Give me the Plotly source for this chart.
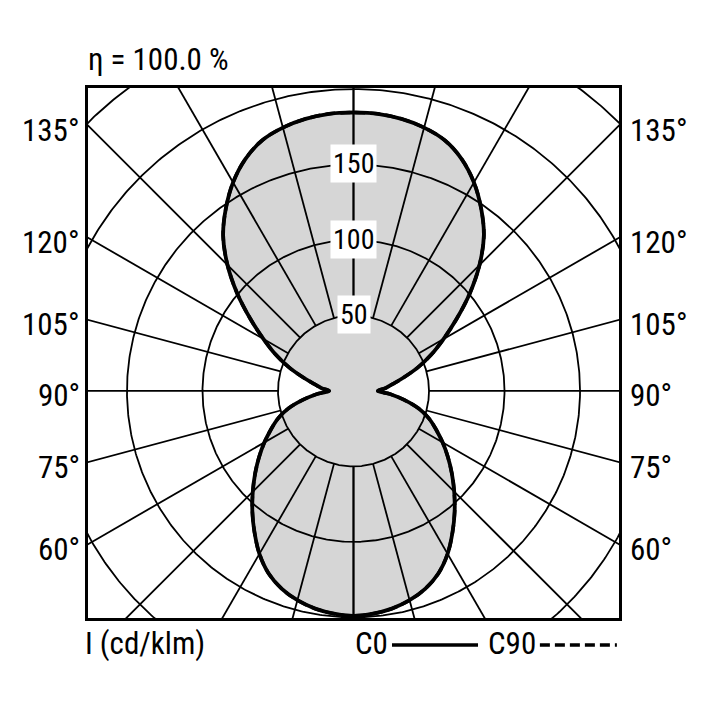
import numpy as np
import plotly.graph_objects as go

# ---- data ----
gamma = [0, 5, 10, 15, 20, 25, 30, 35, 40, 45, 50, 55, 60, 65, 70, 75, 80, 85, 90,
         95, 100, 105, 110, 115, 120, 125, 130, 135, 140, 145, 150, 155, 160, 165, 170, 175, 180]
c0 = [149, 148.1, 146.4, 143.5, 139.3, 133.2, 124.6, 114.3, 104.2, 94.3, 85, 76.3, 68.1, 60.3, 53.1, 44.5, 34.1, 24.6, 16.1,
      21.2, 26.3, 34.4, 45.2, 56.7, 68.8, 83.4, 100.5, 118, 134.3, 147.4, 159.5, 169.5, 176.7, 180.6, 183, 184.3, 184.5]
c90 = [149, 148.1, 146.4, 143.5, 139.3, 133.2, 124.6, 114.3, 104.2, 94.3, 85, 76.3, 68.1, 60.3, 53.1, 44.5, 34.1, 24.6, 16.1,
       21.2, 26.3, 34.4, 45.2, 56.7, 68.8, 83.4, 100.5, 118, 134.3, 147.4, 159.5, 169.5, 176.7, 180.6, 183, 184.3, 184.5]
grid_radii = [50, 100, 150, 200, 250]
radial_angles = [0, 15, 30, 45, 60, 75, 90, 105, 120, 135, 150, 165, 180]
side_label_angles = [60, 75, 90, 105, 120, 135]
ring_labels = [50, 100, 150]
eta_text = "η = 100.0 %"
unit_text = "I (cd/klm)"
legend_names = ["C0", "C90"]

XLIM = 175.8
YTOP = 200.7
YBOT = -150.4
FONT = "Roboto Condensed, DejaVu Sans Condensed, sans-serif"


def curve_xy(g, r):
    g = np.radians(np.asarray(g, dtype=float))
    r = np.asarray(r, dtype=float)
    xr = r * np.sin(g)
    yr = -r * np.cos(g)
    x = np.concatenate([xr, -xr[::-1]])
    y = np.concatenate([yr, yr[::-1]])
    return x, y


fig = go.Figure()

# fill
fx, fy = curve_xy(gamma, c0)
fig.add_trace(go.Scatter(x=fx, y=fy, mode="lines", fill="toself", fillcolor="#d6d6d6",
                         line=dict(width=0, color="rgba(0,0,0,0)", shape="spline"),
                         hoverinfo="skip", showlegend=False))

# grid circles
t = np.linspace(0, 2 * np.pi, 721)
for r in grid_radii:
    fig.add_trace(go.Scatter(x=r * np.cos(t), y=r * np.sin(t), mode="lines",
                             line=dict(color="black", width=1.8),
                             hoverinfo="skip", showlegend=False))

# radial lines (from the first ring outwards)
r0, r1 = grid_radii[0], 500
for a in radial_angles:
    g = np.radians(a)
    for s in (1, -1):
        fig.add_trace(go.Scatter(x=[s * r0 * np.sin(g), s * r1 * np.sin(g)],
                                 y=[-r0 * np.cos(g), -r1 * np.cos(g)], mode="lines",
                                 line=dict(color="black", width=1.8),
                                 hoverinfo="skip", showlegend=False))

# curves
x90, y90 = curve_xy(gamma, c90)
fig.add_trace(go.Scatter(x=x90, y=y90, mode="lines", name="C90",
                         line=dict(color="black", width=3.5, dash="10px,5px", shape="spline"),
                         hoverinfo="skip", showlegend=False))
fig.add_trace(go.Scatter(x=fx, y=fy, mode="lines", name="C0",
                         line=dict(color="black", width=3.8, shape="spline"),
                         hoverinfo="skip", showlegend=False))

annotations = []
# ring labels
for r in ring_labels:
    annotations.append(dict(x=0, y=r, xref="x", yref="y", text=str(r), showarrow=False,
                            font=dict(family=FONT, size=28, color="black"),
                            bgcolor="white", borderpad=2, yshift=1))
# side angle labels
for a in side_label_angles:
    g = np.radians(a)
    yv = -XLIM * np.cos(g) / np.sin(g)
    lab = f"{a}°"
    annotations.append(dict(x=0, y=yv, xref="paper", yref="y", text=lab, showarrow=False,
                            xanchor="right", yanchor="middle", xshift=-6, yshift=-5,
                            font=dict(family=FONT, size=31, color="black")))
    annotations.append(dict(x=1, y=yv, xref="paper", yref="y", text=lab, showarrow=False,
                            xanchor="left", yanchor="middle", xshift=9, yshift=-5,
                            font=dict(family=FONT, size=31, color="black")))
# title & unit
annotations.append(dict(x=0, y=1.053, xref="paper", yref="paper", text=eta_text, showarrow=False,
                        xanchor="left", yanchor="middle", xshift=-2,
                        font=dict(family=FONT, size=31, color="black")))
annotations.append(dict(x=-0.0094, y=-0.049, xref="paper", yref="paper", text=unit_text, showarrow=False,
                        xanchor="left", yanchor="middle",
                        font=dict(family=FONT, size=31, color="black")))
# legend texts
annotations.append(dict(x=0.569, y=-0.049, xref="paper", yref="paper", text=legend_names[0], showarrow=False,
                        xanchor="right", yanchor="middle",
                        font=dict(family=FONT, size=31, color="black")))
annotations.append(dict(x=0.847, y=-0.049, xref="paper", yref="paper", text=legend_names[1], showarrow=False,
                        xanchor="right", yanchor="middle",
                        font=dict(family=FONT, size=31, color="black")))

shapes = [
    dict(type="line", xref="paper", yref="paper", x0=0.5725, x1=0.7345, y0=-0.051, y1=-0.051,
         line=dict(color="black", width=3.5)),
    dict(type="line", xref="paper", yref="paper", x0=0.851, x1=0.996, y0=-0.051, y1=-0.051,
         line=dict(color="black", width=3.5, dash="10px,5px")),
]

# page body has an 8px margin, so the figure is 700x700 and placed at (8, 8)
fig.update_layout(
    width=700, height=700,
    margin=dict(l=80, r=89, t=80, b=90),
    paper_bgcolor="white", plot_bgcolor="white",
    showlegend=False,
    annotations=annotations, shapes=shapes,
    xaxis=dict(range=[-XLIM, XLIM], showgrid=False, zeroline=False, showticklabels=False, ticks="",
               showline=True, linecolor="black", linewidth=2.5, mirror=True, fixedrange=True),
    yaxis=dict(range=[YBOT, YTOP], showgrid=False, zeroline=False, showticklabels=False, ticks="",
               showline=True, linecolor="black", linewidth=2.5, mirror=True, fixedrange=True),
)

fig.write_html("out.html")
